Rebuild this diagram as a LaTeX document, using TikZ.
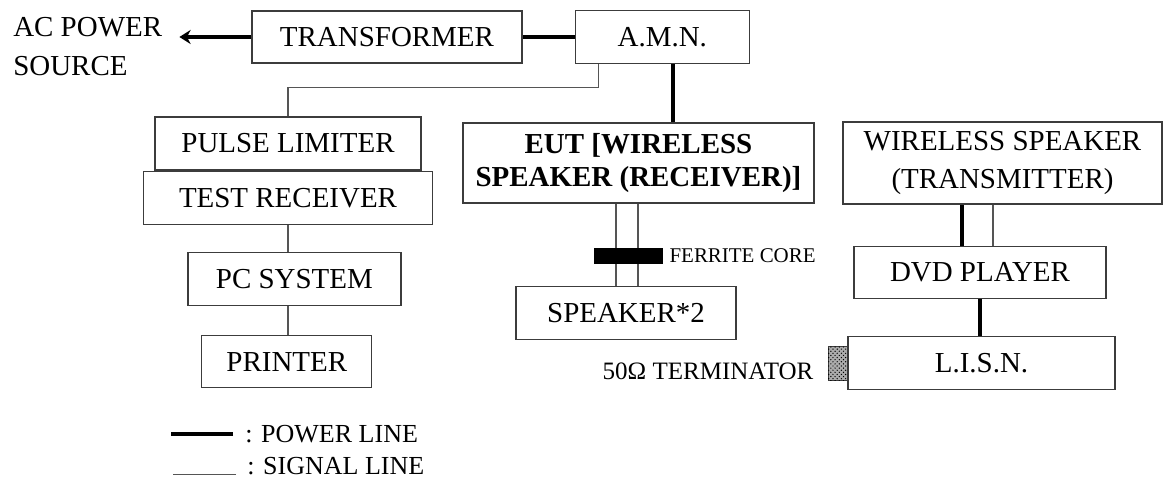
\documentclass[tikz,border=0pt]{standalone}
\usepackage{fontspec}
\setmainfont{Liberation Serif}
\usepackage{tikz}
\usetikzlibrary{arrows.meta,positioning,patterns}
\definecolor{boxline}{RGB}{60,60,60}
\definecolor{sigline}{RGB}{85,85,85}

\begin{document}
\begin{tikzpicture}[
  box/.style={draw=boxline, line width=0.9pt, inner sep=0pt, minimum height=1.325cm,
              align=center, font=\fontsize{20.6pt}{26pt}\selectfont},
  label/.style={inner sep=0pt, font=\fontsize{20.6pt}{27.6pt}\selectfont},
  note/.style={inner sep=0pt, font=\fontsize{17.8pt}{22pt}\selectfont},
  power/.style={line width=2.6pt, black},
  powerarr/.style={power, -{Stealth[length=8pt, width=10pt]}},
  signal/.style={line width=0.8pt, sigline},
  core/.style={fill=black, inner sep=0pt, minimum width=1.725cm, minimum height=0.4cm},
  term/.style={draw=boxline, line width=0.5pt, fill=gray!65, postaction={pattern=crosshatch dots},
               inner sep=0pt, minimum width=0.475cm, minimum height=0.85cm}
]
\useasboundingbox (0,0) rectangle (29.15,-12.05);

%% Top row
\node[label, anchor=north west, align=left] (acsrc) at (0.325,-0.425) {AC POWER\\SOURCE};
\node[box, minimum width=6.75cm, minimum height=1.3cm] (transformer) at (9.675,-0.925) {TRANSFORMER};
\node[box, minimum width=4.35cm, right=1.3cm of transformer] (amn) {A.M.N.};

\coordinate (acend) at ([xshift=0.425cm]acsrc.east |- transformer.west);
\draw[powerarr] (transformer.west) -- (acend);
\draw[power] (transformer.east) -- (transformer.east -| amn.west);

%% Measuring chain (left column)
\node[box, minimum width=6.65cm] (pulse) at (7.2,-3.5875) {PULSE LIMITER};
\node[box, minimum width=7.225cm, below=0pt of pulse] (testrx) {TEST RECEIVER};
\node[box, minimum width=5.325cm, below=0.675cm of testrx, xshift=0.16cm] (pc) {PC SYSTEM};
\node[box, minimum width=4.25cm, minimum height=1.3cm, below=0.725cm of pc, xshift=-0.19cm] (printer) {PRINTER};

\draw[signal] ([xshift=0.6cm]amn.south west) -- ++(0,-0.575) -| (pulse.north);
\draw[signal] (testrx.south) -- (testrx.south |- pc.north);
\draw[signal] (testrx.south |- pc.south) -- (testrx.south |- printer.north);

%% EUT branch
\node[box, minimum width=8.775cm, minimum height=2cm, font=\fontsize{20.6pt}{24.1pt}\selectfont\bfseries]
  (eut) at (15.9625,-4.075) {EUT [WIRELESS\\SPEAKER (RECEIVER)]};
\node[box, minimum width=5.5cm, below=2.05cm of eut, xshift=-0.3125cm] (speaker) {SPEAKER*2};

\draw[power] ([xshift=0.275cm]amn.south) -- ([xshift=0.275cm]amn.south |- eut.north);
\draw[signal] ([xshift=-0.25cm]speaker.north) -- ([xshift=-0.25cm]speaker.north |- eut.south);
\draw[signal] ([xshift=0.3cm]speaker.north) -- ([xshift=0.3cm]speaker.north |- eut.south);

\node[core] (ferrite) at (15.7125,-6.4) {};
\node[inner sep=0pt, font=\fontsize{14.9pt}{18pt}\selectfont, right=0.15cm of ferrite] (ferritetxt) {FERRITE CORE};

%% Transmitter side
\node[box, minimum width=7.975cm, minimum height=2.05cm, font=\fontsize{20.6pt}{26.9pt}\selectfont]
  (wstx) at (25.0625,-4.075) {WIRELESS SPEAKER\\(TRANSMITTER)};
\node[box, minimum width=6.3cm, minimum height=1.3cm, below=1.025cm of wstx, xshift=-0.5625cm] (dvd) {DVD PLAYER};
\node[box, minimum width=6.675cm, below=0.925cm of dvd, xshift=0.0375cm] (lisn) {L.I.S.N.};

\draw[power] ([xshift=-0.45cm]dvd.north) -- ([xshift=-0.45cm]dvd.north |- wstx.south);
\draw[signal] ([xshift=0.325cm]dvd.north) -- ([xshift=0.325cm]dvd.north |- wstx.south);
\draw[power] (dvd.south) -- (dvd.south |- lisn.north);

\node[term, left=0pt of lisn] (terminator) {};
\node[note, left=0.35cm of terminator, yshift=-0.2cm] (termtxt) {50Ω TERMINATOR};

%% Legend
\node[note, font=\fontsize{18.5pt}{22pt}\selectfont, anchor=west] (powerkey) at (6.125,-10.85) {: POWER LINE};
\node[note, font=\fontsize{18.5pt}{22pt}\selectfont, anchor=west] (signalkey) at (6.175,-11.66) {: SIGNAL LINE};
\draw[power] ([xshift=-0.3cm]powerkey.west) -- ([xshift=-1.85cm]powerkey.west);
\draw[signal] ([xshift=-0.275cm, yshift=-0.2cm]signalkey.west) -- ([xshift=-1.85cm, yshift=-0.2cm]signalkey.west);

\end{tikzpicture}
\end{document}
